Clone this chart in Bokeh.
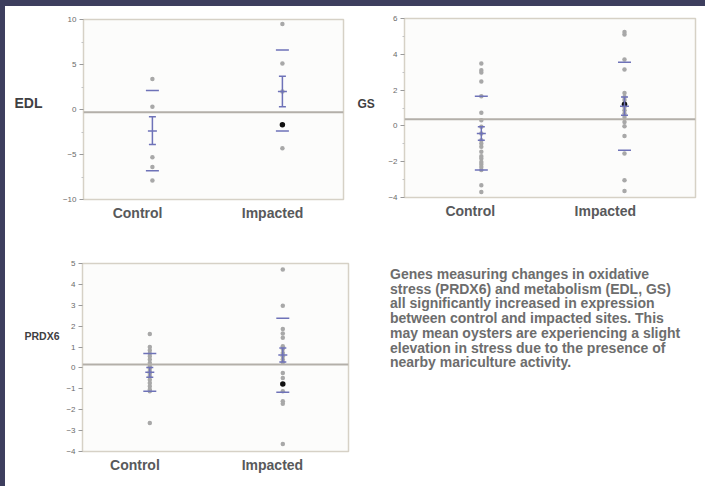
from bokeh.plotting import figure
from bokeh.layouts import row, column
from bokeh.models import Range1d, FixedTicker, Div, Span, GlobalInlineStyleSheet
from bokeh.core.properties import value
from bokeh.embed import file_html
from bokeh.resources import INLINE

groups = ["Control", "Impacted"]

# ---------------- EDL ----------------
edl_control = [3.4, 0.3, -5.3, -6.4, -7.9]
edl_impacted = [9.5, 5.1, 2.0, -4.3]
edl_impacted_highlight = [-1.7]
edl_mean = [-2.4, 2.0]
edl_se_low = [-3.9, 0.3]
edl_se_high = [-0.8, 3.7]
edl_sd_low = [-6.8, -2.4]
edl_sd_high = [2.1, 6.6]
edl_grand = -0.3
edl_ticks = [-10, -5, 0, 5, 10]
edl_minor = [-7.5, -2.5, 2.5, 7.5]

# ---------------- GS ----------------
gs_control = [3.49, 3.11, 2.98, 2.48, 1.66, 0.73, 0.32, -0.05, -0.43, -0.80, -0.98,
              -1.17, -1.45, -1.69, -1.82, -2.01, -2.14, -2.29, -2.47, -3.31, -3.69]
gs_impacted = [5.25, 5.1, 3.71, 3.15, 1.84, 1.62, 1.44, 1.06, 0.88, 0.69, 0.50,
               0.22, -0.02, -0.56, -1.54, -3.03, -3.63]
gs_impacted_highlight = [1.21]
gs_mean = [-0.43, 1.1]
gs_se_low = [-0.8, 0.6]
gs_se_high = [-0.05, 1.62]
gs_sd_low = [-2.47, -1.36]
gs_sd_high = [1.66, 3.56]
gs_grand = 0.37
gs_ticks = [-4, -2, 0, 2, 4, 6]
gs_minor = [-3, -1, 1, 3, 5]

# ---------------- PRDX6 ----------------
prdx6_control = [1.63, 1.0, 0.85, 0.69, 0.56, 0.40, 0.24, 0.08, -0.03, -0.16, -0.27,
                 -0.40, -0.56, -0.72, -0.88, -1.03, -1.11, -2.63]
prdx6_impacted = [4.71, 2.98, 1.87, 1.65, 1.44, 1.04, 0.91, 0.72, 0.56, 0.40, 0.27,
                  -0.24, -0.48, -1.11, -1.59, -1.72, -3.64]
prdx6_impacted_highlight = [-0.77]
prdx6_mean = [-0.21, 0.62]
prdx6_se_low = [-0.45, 0.28]
prdx6_se_high = [0.02, 0.96]
prdx6_sd_low = [-1.11, -1.16]
prdx6_sd_high = [0.69, 2.38]
prdx6_grand = 0.16
prdx6_ticks = [-4, -3, -2, -1, 0, 1, 2, 3, 4, 5]
prdx6_minor = []

caption_lines = [
    "Genes measuring changes in oxidative",
    "stress (PRDX6) and metabolism (EDL, GS)",
    "all significantly increased in expression",
    "between control and impacted sites. This",
    "may mean oysters are experiencing a slight",
    "elevation in stress due to the presence of",
    "nearby mariculture activity.",
]

NAVY = "#3d3e5e"
BLUE = "#6e72b8"
GRAY_PT = "#a8a8a8"
FRAME = "#d6d1c6"
FONT = "Liberation Sans"


def label_fig(name, yr, lay):
    f = figure(width=lay["lw"], height=lay["h"], min_border_left=0, min_border_right=0,
               min_border_top=lay["bt"], min_border_bottom=lay["bb"],
               x_range=Range1d(0, lay["lw"]), y_range=yr,
               x_axis_location=None, y_axis_location=None,
               output_backend="svg", toolbar_location=None)
    f.outline_line_color = None
    f.grid.visible = False
    f.background_fill_color = "#ffffff"
    f.border_fill_color = "#ffffff"
    f.text(x=[lay["lx"]], y=[lay["ly"]], text=[name], text_font=value(FONT),
           text_font_style="bold", text_font_size=lay["lfs"], text_color="#3f4042",
           text_baseline="middle", text_align="left")
    return f


def panel(name, ctrl, imp, imp_hl, mean, se_lo, se_hi, sd_lo, sd_hi, grand,
          ticks, minor, ylim, lay):
    yr = Range1d(*ylim)
    p = figure(width=lay["w"], height=lay["h"],
               min_border_left=lay["bl"], min_border_right=lay["br"],
               min_border_top=lay["bt"], min_border_bottom=lay["bb"],
               x_range=Range1d(0, 1), y_range=yr,
               output_backend="svg", toolbar_location=None)
    p.background_fill_color = "#fcfcfb"
    p.border_fill_color = "#ffffff"
    p.outline_line_color = FRAME
    p.outline_line_width = 1.5
    p.grid.visible = False

    xc, xi = lay["xpos"]
    xs = [xc, xi]

    p.add_layout(Span(location=grand, dimension="width", line_color="#b3afa9", line_width=2))

    p.scatter(x=[xc] * len(ctrl), y=ctrl, size=4.5, color=GRAY_PT, line_color=None)
    p.scatter(x=[xi] * len(imp), y=imp, size=4.5, color=GRAY_PT, line_color=None)
    p.scatter(x=[xi] * len(imp_hl), y=imp_hl, size=5.5, color="#111111", line_color=None)

    p.segment(x0=xs, y0=se_lo, x1=xs, y1=se_hi, line_color=BLUE, line_width=1.5)
    p.scatter(x=xs, y=se_lo, marker="dash", size=7, line_color=BLUE, line_width=1.5)
    p.scatter(x=xs, y=se_hi, marker="dash", size=7, line_color=BLUE, line_width=1.5)
    p.scatter(x=xs, y=mean, marker="dash", size=9, line_color=BLUE, line_width=1.5)
    p.scatter(x=xs, y=sd_lo, marker="dash", size=13, line_color=BLUE, line_width=1.5)
    p.scatter(x=xs, y=sd_hi, marker="dash", size=13, line_color=BLUE, line_width=1.5)

    ya = p.yaxis[0]
    ya.ticker = FixedTicker(ticks=ticks, minor_ticks=minor)
    ya.axis_line_color = None
    ya.major_tick_in = 0
    ya.major_tick_out = 4
    ya.minor_tick_in = 0
    ya.minor_tick_out = 2
    ya.major_tick_line_color = "#9a9a9a"
    ya.minor_tick_line_color = "#c4c4c4"
    ya.major_label_text_font = FONT
    ya.major_label_text_font_size = "8px"
    ya.major_label_text_color = "#6a6a6a"
    ya.major_label_standoff = 3

    xa = p.xaxis[0]
    tc, ti = lay["xlab"]
    xa.ticker = FixedTicker(ticks=[tc, ti])
    xa.major_label_overrides = {tc: groups[0], ti: groups[1]}
    xa.axis_line_color = None
    xa.major_tick_in = 0
    xa.major_tick_out = 0
    xa.minor_tick_in = 0
    xa.minor_tick_out = 0
    xa.major_tick_line_color = None
    xa.minor_tick_line_color = None
    xa.major_label_text_font = FONT
    xa.major_label_text_font_style = "bold"
    xa.major_label_text_font_size = "14px"
    xa.major_label_text_color = "#58595b"
    xa.major_label_standoff = 5

    return row(label_fig(name, yr, lay), p)


p_edl = panel("EDL", edl_control, edl_impacted, edl_impacted_highlight, edl_mean,
              edl_se_low, edl_se_high, edl_sd_low, edl_sd_high, edl_grand,
              edl_ticks, edl_minor, (-10, 10),
              dict(lw=50, w=297, h=239, bl=28, br=9, bt=13, bb=46,
                   xpos=(0.265, 0.765), xlab=(0.208, 0.727),
                   lx=9, ly=0.75, lfs="14px"))

p_gs = panel("GS", gs_control, gs_impacted, gs_impacted_highlight, gs_mean,
             gs_se_low, gs_se_high, gs_sd_low, gs_sd_high, gs_grand,
             gs_ticks, gs_minor, (-4, 6),
             dict(lw=32, w=320, h=239, bl=20, br=9, bt=12, bb=48,
                  xpos=(0.264, 0.756), xlab=(0.226, 0.69),
                  lx=5, ly=1.21, lfs="12px"))

p_prdx6 = panel("PRDX6", prdx6_control, prdx6_impacted, prdx6_impacted_highlight, prdx6_mean,
                prdx6_se_low, prdx6_se_high, prdx6_sd_low, prdx6_sd_high, prdx6_grand,
                prdx6_ticks, prdx6_minor, (-4, 5),
                dict(lw=58, w=289, h=240, bl=15, br=4, bt=18, bb=34,
                     xpos=(0.253, 0.753), xlab=(0.197, 0.714),
                     lx=19, ly=1.52, lfs="10.5px"))

caption = Div(
    text=('<div style="padding:17px 0 0 33px; font-family:\'Liberation Sans\', Arial, sans-serif;'
          ' font-weight:bold; font-size:14px; line-height:14.7px; color:#6d6d6d; white-space:nowrap;">'
          + "<br>".join(caption_lines) + "</div>"),
    width=352, height=240)

layout = column(row(p_edl, p_gs), row(p_prdx6, caption))
layout.margin = (6, 0, 0, 5)
layout.stylesheets = [GlobalInlineStyleSheet(css=(
    "html { min-height:100%; background:"
    " linear-gradient(" + NAVY + "," + NAVY + ") top left / 100% 6px no-repeat,"
    " linear-gradient(" + NAVY + "," + NAVY + ") top left / 5px 100% no-repeat, #ffffff; }"
    " body { background: transparent; }"))]

open("out.html", "w").write(file_html(layout, INLINE))
